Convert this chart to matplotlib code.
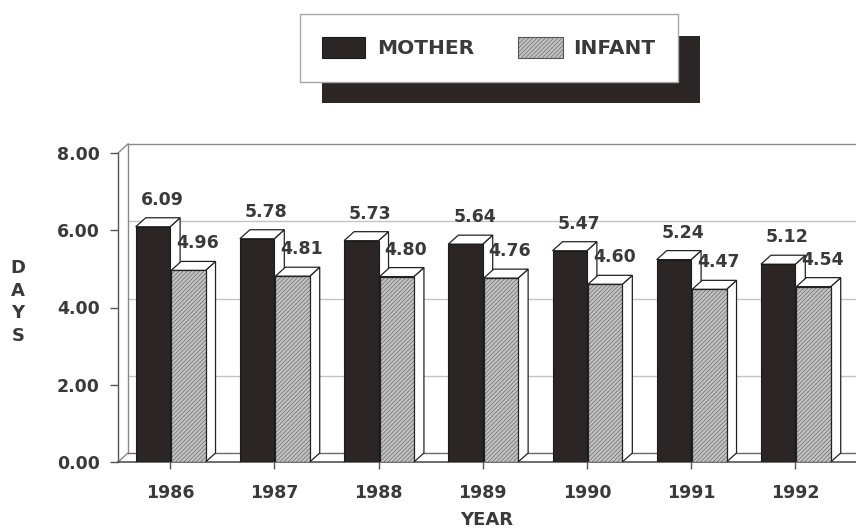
import matplotlib
matplotlib.use('Agg')
import matplotlib.pyplot as plt
from matplotlib.patches import Polygon, Rectangle
import numpy as np

# ---------------- data ----------------
years = ['1986', '1987', '1988', '1989', '1990', '1991', '1992']
mother = [6.09, 5.78, 5.73, 5.64, 5.47, 5.24, 5.12]
infant = [4.96, 4.81, 4.80, 4.76, 4.60, 4.47, 4.54]
series_names = ['MOTHER', 'INFANT']
yticks = [0, 2, 4, 6, 8]
ytick_labels = ['0.00', '2.00', '4.00', '6.00', '8.00']

# ---------------- style ----------------
DARK = '#2b2526'
HATCH_FACE = '#c2c2c2'
HATCH_COL = '#7a7a7a'
HATCH = '////////'
TXT = '#3a3a3a'
FONT = 'DejaVu Sans'
plt.rcParams['hatch.linewidth'] = 0.6
plt.rcParams['font.family'] = [FONT]

W, H = 856, 531
fig = plt.figure(figsize=(W / 100, H / 100), dpi=100)
fig.patch.set_facecolor('white')

ax = fig.add_axes([118 / W, 69 / H, 738 / W, 309 / H])
ax.set_xlim(-0.5, -0.5 + 738 / 104.2)
ax.set_ylim(0, 8)
ax.patch.set_visible(False)
for s in ['top', 'right']:
    ax.spines[s].set_visible(False)
ax.spines['left'].set_color('#555555')
ax.spines['bottom'].set_color('#555555')
ax.spines['left'].set_linewidth(1.0)
ax.spines['bottom'].set_linewidth(1.2)

# depth offset (pixels -> data units)
p0 = ax.transData.transform((0, 0))
dxd, dyd = ax.transData.inverted().transform(p0 + np.array([10.0, 9.0]))
xl0 = -0.5
xfar = 9.0

# back wall and floor
for yv in yticks[1:-1]:
    ax.plot([xl0 + dxd, xfar], [yv + dyd] * 2, color='#c4c4c4', lw=1.0,
            clip_on=False, zorder=1)
ax.plot([xl0 + dxd, xfar], [8 + dyd] * 2, color='#8a8a8a', lw=1.0, clip_on=False, zorder=1)
ax.plot([xl0 + dxd, xl0 + dxd], [dyd, 8 + dyd], color='#8a8a8a', lw=1.0, clip_on=False, zorder=1)
ax.plot([xl0, xl0 + dxd], [8, 8 + dyd], color='#8a8a8a', lw=1.0, clip_on=False, zorder=1)
ax.plot([xl0, xl0 + dxd], [0, dyd], color='#8a8a8a', lw=1.0, clip_on=False, zorder=1)
ax.plot([xl0 + dxd, xfar], [dyd, dyd], color='#6a6a6a', lw=1.0, clip_on=False, zorder=1)

x = np.arange(len(years))
wbar = 0.33


def draw_3d(x0s, vals, z):
    for x0, v in zip(x0s, vals):
        x1 = x0 + wbar
        top = Polygon([(x0, v), (x1, v), (x1 + dxd, v + dyd), (x0 + dxd, v + dyd)],
                      closed=True, facecolor='white', edgecolor='#222222', lw=0.9,
                      zorder=z)
        side = Polygon([(x1, 0), (x1 + dxd, dyd), (x1 + dxd, v + dyd), (x1, v)],
                       closed=True, facecolor='white', edgecolor='#222222', lw=0.9,
                       zorder=z)
        ax.add_patch(side)
        ax.add_patch(top)


# mother bars
draw_3d(x - wbar, mother, 3)
ax.bar(x - wbar, mother, width=wbar, align='edge', color=DARK, edgecolor='#1a1a1a',
       lw=0.8, zorder=3.1)
# infant bars
draw_3d(x + 0.01, infant, 4)
ax.bar(x + 0.01, infant, width=wbar, align='edge', facecolor=HATCH_FACE,
       edgecolor=HATCH_COL, hatch=HATCH, lw=0, zorder=4.1)
ax.bar(x + 0.01, infant, width=wbar, align='edge', facecolor='none',
       edgecolor='#222222', lw=0.9, zorder=4.2)

# value labels
for xs, vals in [(x - wbar / 2, mother), (x + 0.01 + wbar / 2, infant)]:
    for xc, v in zip(xs, vals):
        ax.annotate(f'{v:.2f}', xy=(xc, v), xytext=(9, 27), textcoords='offset pixels',
                    ha='center', va='center', fontsize=12.5, fontweight='bold',
                    color=TXT, zorder=6, annotation_clip=False)

# ticks
ax.set_yticks(yticks)
ax.set_yticklabels(ytick_labels)
ax.set_xticks(x)
ax.set_xticklabels(years)
ax.tick_params(axis='y', length=6, width=1.0, color='#555555', pad=7,
               labelsize=12.5, labelcolor=TXT)
ax.tick_params(axis='x', length=5, width=1.0, color='#555555', pad=11,
               labelsize=12.5, labelcolor=TXT)
for lab in ax.get_xticklabels() + ax.get_yticklabels():
    lab.set_fontweight('bold')

# axis titles
fig.text(18 / W, 1 - 302 / H, 'D\nA\nY\nS', ha='center', va='center', fontsize=13,
         fontweight='bold', color=TXT, linespacing=1.35)
fig.text(487 / W, 1 - 520 / H, 'YEAR', ha='center', va='center', fontsize=13,
         fontweight='bold', color=TXT)


# legend (figure pixel coords, top-left origin)
def frect(x0, y0, x1, y1, **kw):
    r = Rectangle((x0 / W, 1 - y1 / H), (x1 - x0) / W, (y1 - y0) / H,
                  transform=fig.transFigure, **kw)
    fig.add_artist(r)
    return r


frect(322, 36, 700, 103, facecolor=DARK, edgecolor='none', zorder=10)
frect(300, 14, 678, 82, facecolor='white', edgecolor='#a8a8a8', lw=1.0, zorder=11)
frect(322, 37, 365, 58, facecolor=DARK, edgecolor='#1a1a1a', lw=0.8, zorder=12)
frect(518, 37, 563, 58, facecolor=HATCH_FACE, edgecolor=HATCH_COL, hatch=HATCH,
      lw=0, zorder=12)
frect(518, 37, 563, 58, facecolor='none', edgecolor='#555555', lw=0.8, zorder=12.5)
fig.text(377 / W, 1 - 48 / H, series_names[0], ha='left', va='center',
         fontsize=14.5, fontweight='bold', color=TXT, zorder=13)
fig.text(573 / W, 1 - 48 / H, series_names[1], ha='left', va='center',
         fontsize=14.5, fontweight='bold', color=TXT, zorder=13)

fig.savefig('out.png', dpi=100, facecolor='white')
